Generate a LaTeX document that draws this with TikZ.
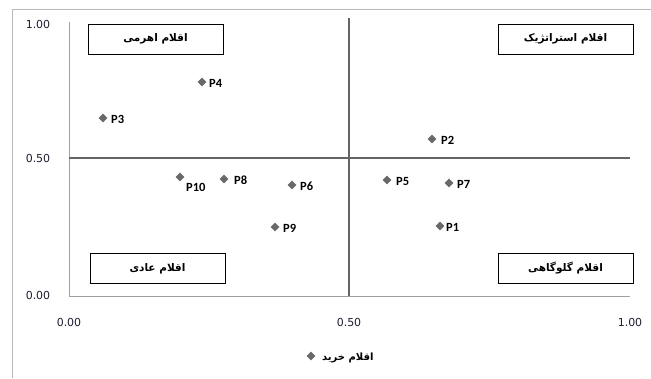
\documentclass[tikz,border=0pt]{standalone}
\usepackage{fontspec}
\setmainfont{DejaVu Sans}
\newfontfamily\fa[Script=Arabic]{DejaVu Sans}
\newfontfamily\lab{Carlito}
\TeXXeTstate=1
\usetikzlibrary{shapes.geometric}
\definecolor{markgray}{RGB}{105,105,105}
\definecolor{framegray}{RGB}{185,185,185}
\definecolor{axisgray}{RGB}{160,160,160}
\definecolor{midgray}{RGB}{100,100,100}
\definecolor{ticktext}{RGB}{30,30,50}
\begin{document}
\begin{tikzpicture}[x=1pt,y=-1pt,
  mk/.style={diamond, fill=markgray, inner sep=0pt, minimum width=9pt, minimum height=9pt},
  plab/.style={font=\lab\bfseries\fontsize{12.5}{13}\selectfont, anchor=west, inner sep=0pt},
  qbox/.style={draw, line width=0.9pt, minimum width=135pt, minimum height=30pt, inner sep=0pt, font=\fa\bfseries\fontsize{10.5}{12}\selectfont},
  tick/.style={font=\fontsize{11}{12}\selectfont, text=ticktext, inner sep=0pt}]
\path[fill=white, use as bounding box] (0,0) rectangle (651,378);
% outer frame
\coordinate (f1) at (12,378);
\coordinate (f2) at (12,9);
\coordinate (f3) at (651,9);
\draw[framegray, line width=1pt] (f1) -- (f2) -- (f3);
% plot area axes
\coordinate (o) at (69,296);
\coordinate (ytop) at (69,22);
\coordinate (xr) at (630,296);
\draw[axisgray, line width=0.8pt] (ytop) -- (o) -- (xr);
% mid lines
\coordinate (vt) at (349,18);
\coordinate (vb) at (349,296);
\coordinate (hl) at (69,158);
\coordinate (hr) at (630,158);
\draw[midgray, line width=1.1pt] (vt) -- (vb);
\draw[midgray, line width=1.1pt] (hl) -- (hr);
% tick labels
\node[tick] (y1) at (38,24) {1.00};
\node[tick] (y5) at (38,158) {0.50};
\node[tick] (y0) at (38,295) {0.00};
\node[tick] (x0) at (69,322) {0.00};
\node[tick] (x5) at (349,322) {0.50};
\node[tick] (x1) at (630,322) {1.00};
% quadrant boxes
\node[qbox] (tl) at (155.5,39) {\beginR اقلام اهرمی\endR};
\node[qbox] (tr) at (565.5,39) {\beginR اقلام استراتژیک\endR};
\node[qbox] (bl) at (157.5,268.5) {\beginR اقلام عادی\endR};
\node[qbox] (br) at (565.5,268.5) {\beginR اقلام گلوگاهی\endR};
% points
\node[mk] (p1) at (440,226) {};
\node[mk] (p2) at (432,139) {};
\node[mk] (p3) at (103,118) {};
\node[mk] (p4) at (202,82) {};
\node[mk] (p5) at (387,180) {};
\node[mk] (p6) at (292,185) {};
\node[mk] (p7) at (449,183) {};
\node[mk] (p8) at (224,179) {};
\node[mk] (p9) at (275,227) {};
\node[mk] (p10) at (180,177) {};
\node[plab] (l1) at (446,227) {P1};
\node[plab] (l2) at (441,140) {P2};
\node[plab] (l3) at (111,119) {P3};
\node[plab] (l4) at (209,83) {P4};
\node[plab] (l5) at (396,181) {P5};
\node[plab] (l6) at (300,186) {P6};
\node[plab] (l7) at (457,184) {P7};
\node[plab] (l8) at (234,180) {P8};
\node[plab] (l9) at (283,228) {P9};
\node[plab] (l10) at (186,187) {P10};
% legend
\node[mk] (lg) at (311,356) {};
\node[font=\fa\bfseries\fontsize{10}{12}\selectfont, anchor=west, inner sep=0pt] (lgt) at (322,358) {\beginR اقلام خرید\endR};
\end{tikzpicture}
\end{document}
